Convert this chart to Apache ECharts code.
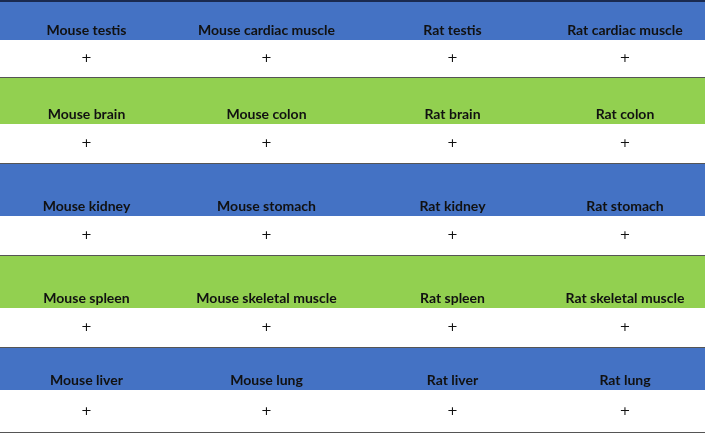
<!DOCTYPE html>
<html lang="en">
<head>
    <meta charset="UTF-8">
    <title>Tissues</title>
    <script src="https://cdn.jsdelivr.net/npm/echarts@6/dist/echarts.min.js"></script>
    <style>
        html, body { margin: 0; padding: 0; background: #fff; }
        #chart { width: 705px; height: 433px; }
    </style>
</head>
<body>
    <div id="chart"></div>
    <script>
        // tissue names, one row per band, four columns
        let tissueRows = [
            ['Mouse testis', 'Mouse cardiac muscle', 'Rat testis', 'Rat cardiac muscle'],
            ['Mouse brain', 'Mouse colon', 'Rat brain', 'Rat colon'],
            ['Mouse kidney', 'Mouse stomach', 'Rat kidney', 'Rat stomach'],
            ['Mouse spleen', 'Mouse skeletal muscle', 'Rat spleen', 'Rat skeletal muscle'],
            ['Mouse liver', 'Mouse lung', 'Rat liver', 'Rat lung']
        ];
        let marks = [
            ['+', '+', '+', '+'],
            ['+', '+', '+', '+'],
            ['+', '+', '+', '+'],
            ['+', '+', '+', '+'],
            ['+', '+', '+', '+']
        ];
        let bandColors = ['#4472C4', '#92D050', '#4472C4', '#92D050', '#4472C4'];

        // layout (pixels in axis units)
        let colEdges = [0, 173, 360, 545, 705];
        let headTop = [0, 78, 164, 256, 348];
        let headBottom = [40, 124, 216, 308, 390];
        let rowBottom = [78, 164, 256, 348, 433];

        let data = [];
        tissueRows.forEach((row, r) => row.forEach((name, c) => data.push([c, r])));

        function renderItem(params, api) {
            let c = api.value(0), r = api.value(1);
            let p0 = api.coord([colEdges[c], headTop[r]]);
            let p1 = api.coord([colEdges[c + 1], headBottom[r]]);
            let p2 = api.coord([colEdges[c + 1], rowBottom[r]]);
            let cx = (p0[0] + p1[0]) / 2;
            let children = [
                { type: 'rect', shape: { x: p0[0], y: p0[1], width: p1[0] - p0[0], height: p1[1] - p0[1] },
                  style: { fill: bandColors[r] } },
                { type: 'rect', shape: { x: p0[0], y: p1[1], width: p1[0] - p0[0], height: p2[1] - p1[1] },
                  style: { fill: '#fff' } },
                { type: 'text', style: { x: cx, y: p1[1] - 10, text: tissueRows[r][c], align: 'center',
                  verticalAlign: 'middle', fill: '#111', font: 'bold 14px Lato' } },
                { type: 'text', style: { x: cx, y: (p1[1] + p2[1]) / 2, text: marks[r][c], align: 'center',
                  verticalAlign: 'middle', fill: '#111', font: '13px "DejaVu Sans"' } },
                { type: 'line', shape: { x1: p0[0], y1: p2[1] - 0.5, x2: p2[0], y2: p2[1] - 0.5 },
                  style: { stroke: '#555', lineWidth: 1 } }
            ];
            if (r === 0) {
                children.push({ type: 'line', shape: { x1: p0[0], y1: 1, x2: p2[0], y2: 1 },
                    style: { stroke: '#1a2a50', lineWidth: 2 } });
            }
            if (c === 0) {
                children.push({ type: 'line', shape: { x1: p1[0] + 0.5, y1: p0[1], x2: p1[0] + 0.5, y2: p2[1] },
                    style: { stroke: '#555', lineWidth: 1 } });
            }
            return { type: 'group', children: children };
        }

        let chart = echarts.init(document.getElementById('chart'));
        chart.setOption({
            animation: false,
            grid: { left: 0, right: 0, top: 0, bottom: 0 },
            xAxis: { type: 'value', min: 0, max: 705, show: false },
            yAxis: { type: 'value', min: 0, max: 433, inverse: true, show: false },
            series: [{
                type: 'custom',
                renderItem: renderItem,
                data: data,
                z: 1
            }]
        });
    </script>
</body>
</html>
